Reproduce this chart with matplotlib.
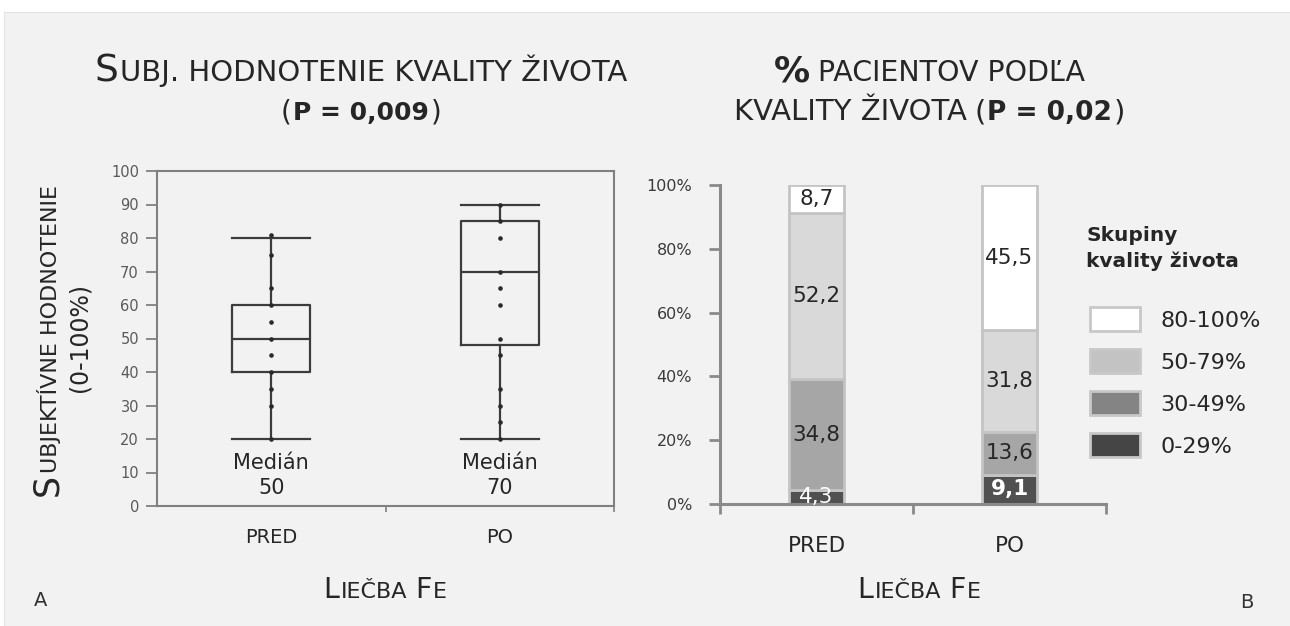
import matplotlib
matplotlib.use("Agg")
import matplotlib.pyplot as plt
from matplotlib.patches import Rectangle, Patch

W, H = 1290, 626

# Panel A: subjective quality-of-life score before / after iron therapy
groups = ["PRED", "PO"]
whisker_low = [20, 20]
quartile_1 = [40, 48]
medians = [50, 70]
quartile_3 = [60, 85]
whisker_high = [80, 90]
points_pred = [81, 75, 65, 60, 55, 50, 45, 40, 35, 30, 20]
points_po = [90, 85, 80, 70, 65, 60, 50, 45, 35, 30, 25, 20]
score_ticks = list(range(0, 101, 10))

# Panel B: share of patients in each quality-of-life group
bar_groups = ["PRED", "PO"]
quality_labels = ["0-29%", "30-49%", "50-79%", "80-100%"]
share_0_29 = [4.3, 9.1]
share_30_49 = [34.8, 13.6]
share_50_79 = [52.2, 31.8]
share_80_100 = [8.7, 45.5]
percent_ticks = [0, 20, 40, 60, 80, 100]
percent_tick_labels = ["0%", "20%", "40%", "60%", "80%", "100%"]
legend_title = "Skupiny\nkvality života"

INK = "#262626"
BOX = "#3c3c3c"
SPINE = "#808080"
FAMILY = "DejaVu Sans"

fig = plt.figure(figsize=(W / 100, H / 100), dpi=100)
fig.patch.set_facecolor("white")
fig.add_artist(Rectangle((4 / W, 0), 1, 1 - 12 / H, transform=fig.transFigure,
                         facecolor="#f2f2f2", edgecolor="#e2e2e2", lw=0.8, zorder=-10))
renderer = fig.canvas.get_renderer()


def fx(x):
    return x / W


def fy(y):
    return 1 - y / H


def caps_line(parts, cx, cy, rotation=0, color=INK):
    """Lay out pieces of different size on one baseline, centred on cx
    (or on cy for vertical text). A number in parts is a blank gap in px."""
    items, total, pad = [], 0.0, 1.5
    for p in parts:
        if isinstance(p, (int, float)):
            items.append((None, p))
            total += p
            continue
        s, size, weight = p
        t = fig.text(0, 0, s, fontsize=size, fontweight=weight, color=color,
                     family=FAMILY, ha="left", va="baseline", rotation_mode="anchor")
        w = t.get_window_extent(renderer).width
        items.append((t, w))
        total += w + pad
    offset = -total / 2
    for t, w in items:
        if t is None:
            offset += w
            continue
        if rotation == 0:
            t.set_position((fx(cx + offset), fy(cy)))
        else:
            t.set_rotation(rotation)
            t.set_position((fx(cx), fy(cy - offset)))
        offset += w + pad


# ---------------- Panel A: box plot ----------------
axA = fig.add_axes([fx(157), fy(506), 457 / W, 335 / H])
axA.set_facecolor("none")
positions = [1, 2]
stats = [dict(whislo=lo, q1=a, med=m, q3=b, whishi=hi, fliers=[])
         for lo, a, m, b, hi in zip(whisker_low, quartile_1, medians, quartile_3, whisker_high)]
line = dict(color=BOX, linewidth=1.6)
axA.bxp(stats, positions=positions, widths=0.34, capwidths=[0.34, 0.34], showfliers=False,
        boxprops=line, whiskerprops=line, capprops=line, medianprops=line, manage_ticks=False)
for pos, pts in zip(positions, [points_pred, points_po]):
    axA.plot([pos] * len(pts), pts, linestyle="none", marker="o", ms=2.3,
             color="#2a2a2a", zorder=4)
for pos, m in zip(positions, medians):
    axA.text(pos, 9, f"Medián\n{m}", ha="center", va="center", fontsize=15,
             color=INK, linespacing=1.3, family=FAMILY)
axA.set_xlim(0.5, 2.5)
axA.set_ylim(0, 100)
axA.set_yticks(score_ticks)
axA.set_xticks(positions, groups)
axA.set_xticks([1.5, 2.5], minor=True)
axA.tick_params(axis="y", direction="out", length=8, width=1.3, color=SPINE,
                labelsize=10.5, labelcolor="#5a5a5a", pad=5)
axA.tick_params(axis="x", which="major", length=0, labelsize=14, labelcolor=INK, pad=16)
axA.tick_params(axis="x", which="minor", length=4, width=1.2, color=SPINE)
for sp in axA.spines.values():
    sp.set_color(SPINE)
    sp.set_linewidth(1.5)

# ---------------- Panel B: stacked percentage bars ----------------
axB = fig.add_axes([fx(720), fy(504), 386 / W, 319 / H])
axB.set_facecolor("none")
xb = [0.5, 1.5]
fills = ["#505050", "#a6a6a6", "#d9d9d9", "#ffffff"]
series = [share_0_29, share_30_49, share_50_79, share_80_100]
base = [0.0, 0.0]
for k, (vals, fill, lab) in enumerate(zip(series, fills, quality_labels)):
    axB.bar(xb, vals, width=0.29, bottom=base, color=fill, edgecolor="#c4c4c4",
            linewidth=2, label=lab, zorder=2)
    for xi, b, v in zip(xb, base, vals):
        dark = k == 0
        axB.text(xi, b + v / 2, f"{v:.1f}".replace(".", ","), ha="center", va="center",
                 fontsize=15.5, color="white" if dark else INK,
                 fontweight="bold" if (dark and v > 6) else "normal", zorder=3)
    base = [b + v for b, v in zip(base, vals)]
axB.set_xlim(0, 2)
axB.set_ylim(0, 100)
axB.set_yticks(percent_ticks, percent_tick_labels)
axB.set_xticks(xb, bar_groups)
axB.set_xticks([0, 1, 2], minor=True)
axB.tick_params(axis="y", direction="out", length=8, width=2, color="#8a8a8a",
                labelsize=11.5, labelcolor="#3a3a3a", pad=12)
axB.tick_params(axis="x", which="major", length=0, labelsize=15.5, labelcolor=INK, pad=23)
axB.tick_params(axis="x", which="minor", length=7, width=2, color="#8a8a8a")
axB.spines["top"].set_visible(False)
axB.spines["right"].set_visible(False)
for side in ("left", "bottom"):
    axB.spines[side].set_color("#8a8a8a")
    axB.spines[side].set_linewidth(2.2)

# legend: title as its own text block, entries below it
fig.text(fx(1086), fy(226), legend_title, ha="left", va="top", fontsize=14.5,
         fontweight="bold", color=INK, linespacing=1.45, family=FAMILY)
legend_fills = ["#ffffff", "#c3c3c3", "#848484", "#454545"]
handles = [Patch(facecolor=c, edgecolor="#c8c8c8", linewidth=2) for c in legend_fills]
leg = fig.legend(handles, quality_labels[::-1], loc="upper left",
                 bbox_to_anchor=(fx(1090), fy(307)), frameon=False, fontsize=16,
                 handlelength=2.25, handleheight=1.3, handletextpad=0.9,
                 labelspacing=0.8, borderpad=0, borderaxespad=0, labelcolor=INK)

# ---------------- titles and axis captions ----------------
caps_line([("S", 27, "normal"), ("UBJ. HODNOTENIE KVALITY ŽIVOTA", 21, "normal")], 362, 81)
caps_line([("(", 20, "normal"), ("P = 0,009", 18, "bold"), (")", 20, "normal")], 362, 120)
caps_line([("%", 26, "bold"), 6, ("PACIENTOV PODĽA", 20.5, "normal")], 930, 81)
caps_line([("KVALITY ŽIVOTA", 21, "normal"), 6, ("(", 21, "normal"),
           ("P = 0,02", 19, "bold"), (")", 21, "normal")], 930, 120)
caps_line([("S", 25, "normal"), ("UBJEKTÍVNE HODNOTENIE", 16, "normal")], 57, 340, rotation=90)
fig.text(fx(80), fy(337), "(0-100%)", rotation=90, ha="center", va="center",
         fontsize=17, color=INK, family=FAMILY)
for cx in (386, 920):
    caps_line([("L", 20.5, "normal"), ("IEČBA", 16, "normal"), 6,
               ("F", 20.5, "normal"), ("E", 16, "normal")], cx, 598)

fig.text(fx(41), fy(600), "A", fontsize=14, ha="center", va="center", color="#333333")
fig.text(fx(1247), fy(603), "B", fontsize=14, ha="center", va="center", color="#333333")

fig.savefig("out.png", dpi=100, facecolor=fig.get_facecolor())
